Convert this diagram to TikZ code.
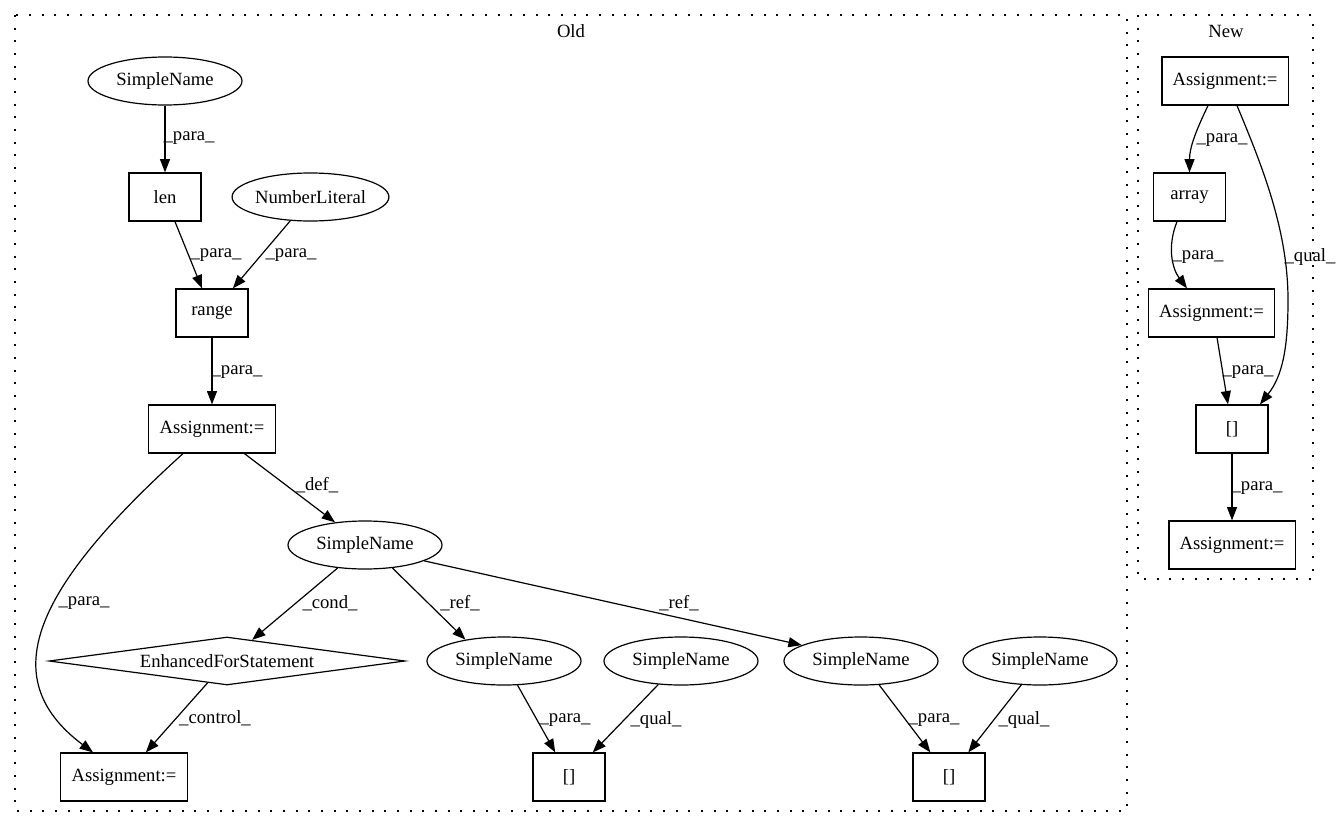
\documentclass[tikz,border=0pt]{standalone}
\usepackage{fontspec}
\setmainfont{Liberation Serif}
\usetikzlibrary{positioning,calc,shapes.geometric}
\usetikzlibrary{arrows.meta}

\begin{document}
\begin{tikzpicture}[
  x = 0.75pt,
  y = -0.75pt,
  font = \fontsize{14}{17}\selectfont,
  box/.style = {
    draw,
    rectangle,
    line width = 0.9pt,
    minimum width = 54pt,
    minimum height = 36pt,
    inner xsep = 8pt,
  },
  oval/.style = {
    draw,
    ellipse,
    line width = 0.9pt,
    minimum width = 115.5pt,
    minimum height = 36pt,
    inner sep = 0pt,
  },
  choice/.style = {
    draw,
    diamond,
    aspect = 7.4,
    line width = 0.9pt,
    minimum width = 267pt,
    minimum height = 36pt,
    inner sep = 0pt,
  },
  lbl/.style = {inner sep = 0pt},
  link/.style = {->, line width = 0.9pt},
  cluster/.style = {draw, line width = 1pt, dash pattern = on 1.5pt off 8pt},
  >={Triangle[length=10pt,width=7.5pt]},
]

  \useasboundingbox (0,0) rectangle (1341,828);

  % clusters
  \draw[cluster] (15,15) rectangle (1127,811);
  \node (old) at (571,31) {Old};
  \draw[cluster] (1138,15) rectangle (1313,579);
  \node (new) at (1226,31) {New};

  % old
  \node[oval] (sn1) at (165,81) {SimpleName};
  \node[box] (len) at (165,197) {len};
  \node[oval] (numlit) at (310.5,197) {NumberLiteral};
  \node[box] (range) at (212,313) {range};
  \node[box] (asg1) at (212,429) {Assignment:=};
  \node[oval] (var) at (365,545) {SimpleName};
  \node[choice] (loop) at (227,661) {EnhancedForStatement};
  \node[box] (asg2) at (124,777) {Assignment:=};
  \node[oval] (ref1) at (504,661) {SimpleName};
  \node[oval] (qual1) at (681,661) {SimpleName};
  \node[oval] (ref2) at (861,661) {SimpleName};
  \node[oval] (qual2) at (1040,661) {SimpleName};
  \node[box] (acc1) at (569,777) {[]};
  \node[box] (acc2) at (949,777) {[]};

  \draw[link] (sn1) -- (len);
  \draw[link] (len) -- (range);
  \draw[link] (numlit) -- (range);
  \draw[link] (range) -- (asg1);
  \draw[link] (asg1) -- (var);
  \draw[link] ($(asg1.south)+(-29,0)$) .. controls +(-148,134) and +(-100,-75) .. ($(asg2.north)+(-31,0)$);
  \draw[link] (var) -- (loop);
  \draw[link] (loop) -- (asg2);
  \draw[link] (var.-40) -- (ref1.151);
  \draw[link] (var.-15) -- (ref2.165);
  \draw[link] (ref1) -- (acc1);
  \draw[link] (qual1) -- (acc1);
  \draw[link] (ref2) -- (acc2);
  \draw[link] (qual2) -- (acc2);

  \node[lbl] (l1) at (189,138) {\_para\_};
  \node[lbl] (l2) at (216,255) {\_para\_};
  \node[lbl] (l3) at (291,255) {\_para\_};
  \node[lbl] (l4) at (237,372) {\_para\_};
  \node[lbl] (l5) at (317,485) {\_def\_};
  \node[lbl] (l6) at (84,603) {\_para\_};
  \node[lbl] (l7) at (330,603) {\_cond\_};
  \node[lbl] (l8) at (460,603) {\_ref\_};
  \node[lbl] (l9) at (679,603) {\_ref\_};
  \node[lbl] (l10) at (215,718) {\_control\_};
  \node[lbl] (l11) at (565,720) {\_para\_};
  \node[lbl] (l12) at (656,720) {\_qual\_};
  \node[lbl] (l13) at (934,720) {\_para\_};
  \node[lbl] (l14) at (1024,720) {\_qual\_};

  % new
  \node[box] (nasg1) at (1225,81) {Assignment:=};
  \node[box] (arr) at (1189.5,197) {array};
  \node[box] (nasg2) at (1211.5,313) {Assignment:=};
  \node[box] (nacc) at (1232,429) {[]};
  \node[box] (nasg3) at (1232,545) {Assignment:=};

  \draw[link] ($(nasg1.south)+(-17,0)$) .. controls +(-12,25) and +(0,-25) .. (arr.north);
  \draw[link] ($(nasg1.south)+(12,0)$) .. controls +(25,60) and +(0,-70) .. (1288,300)
    .. controls +(0,50) and +(22,-28) .. ($(nacc.north)+(28,0)$);
  \draw[link] ($(arr.south)+(-12.5,0)$) .. controls +(-10,25) and +(-15,-20) .. ($(nasg2.north)+(-24.5,0)$);
  \draw[link] ($(nasg2.south)+(5.5,0)$) -- ($(nacc.north)+(-4,0)$);
  \draw[link] (nacc) -- (nasg3);

  \node[lbl] (m1) at (1222,140) {\_para\_};
  \node[lbl] (m2) at (1310,257) {\_qual\_};
  \node[lbl] (m3) at (1198,257) {\_para\_};
  \node[lbl] (m4) at (1248,372) {\_para\_};
  \node[lbl] (m5) at (1257,488) {\_para\_};

\end{tikzpicture}
\end{document}
